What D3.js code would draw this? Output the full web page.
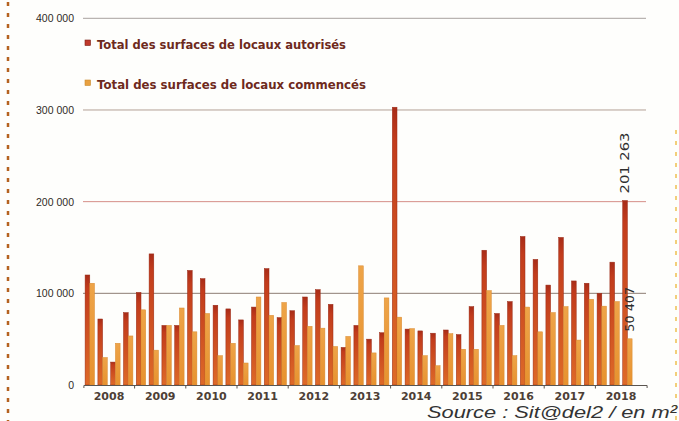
<!DOCTYPE html>
<html><head><meta charset="utf-8">
<script src="https://cdn.jsdelivr.net/npm/d3@7"></script>
<style>html,body{margin:0;padding:0;background:#fefefc;} svg{display:block;}</style>
</head><body><svg id="c" width="679" height="421"></svg>
<script>
// ---- data ----
const years = ["2008","2009","2010","2011","2012","2013","2014","2015","2016","2017","2018"];
const quarters = ["2008T1","2008T2","2008T3","2008T4","2009T1","2009T2","2009T3","2009T4",
  "2010T1","2010T2","2010T3","2010T4","2011T1","2011T2","2011T3","2011T4",
  "2012T1","2012T2","2012T3","2012T4","2013T1","2013T2","2013T3","2013T4",
  "2014T1","2014T2","2014T3","2014T4","2015T1","2015T2","2015T3","2015T4",
  "2016T1","2016T2","2016T3","2016T4","2017T1","2017T2","2017T3","2017T4",
  "2018T1","2018T2","2018T3","2018T4"];
const autorises = [120000,72000,25000,79000, 101000,143000,65000,65000,
  125000,116000,87000,83000, 71000,85000,127000,73500,
  81000,96000,104000,88000, 41000,65000,50000,57000,
  303000,61000,59000,56500, 60000,55000,85500,147000,
  78000,91000,162000,137000, 109000,161000,113500,111000,
  100000,134000,201263,null];
const commences = [111000,30000,45500,53500, 82000,38000,65000,84000,
  58000,78000,32000,45500, 24000,96000,76000,90000,
  43000,64000,62000,42000, 53000,130000,35000,95000,
  74000,61500,32000,21000, 56000,39000,39000,103000,
  65000,32000,85000,58000, 79000,85500,49000,93500,
  86000,91000,50407,null];
const seriesNames = ["Total des surfaces de locaux autorisés","Total des surfaces de locaux commencés"];
const yTicks = [0,100000,200000,300000,400000];
const labelledIndex = 42;
const sourceText = "Source : Sit@del2 / en m²";

// ---- chart ----
const svg = d3.select("#c");
const fmt = v => d3.format(",")(v).replace(/,/g, " ");

const x0 = d3.scaleBand().domain(quarters).range([83.4, 646.6]);
const x1 = d3.scaleBand().domain([0,1]).range([1.7, x0.bandwidth() - 1.7]);
const xYear = d3.scaleBand().domain(years).range([83.4, 646.6]);
const y = d3.scaleLinear().domain([0, 400000]).range([385, 18.3]);

const defs = svg.append("defs");
function grad(id, stops){
  const g = defs.append("linearGradient").attr("id", id).attr("x1",0).attr("x2",0).attr("y1",0).attr("y2",1);
  stops.forEach(s => g.append("stop").attr("offset", s[0]).attr("stop-color", s[1]));
}
grad("gRed", [[0,"#a82c18"],[0.12,"#c23c1c"],[1,"#de6a28"]]);
grad("gOr", [[0,"#eea448"],[1,"#e7922f"]]);
const fills = ["url(#gRed)","url(#gOr)"];
const strokes = ["#9a2a16","#d98a30"];
const swatch = ["#c0392b","#e8a040"];

// page dashed borders
svg.append("line").attr("x1",8).attr("x2",8).attr("y1",2).attr("y2",421)
  .attr("stroke","#b5621f").attr("stroke-width",2.5).attr("stroke-dasharray","4,7");
svg.append("line").attr("x1",676).attr("x2",676).attr("y1",130).attr("y2",421)
  .attr("stroke","#f2cf7a").attr("stroke-width",2).attr("stroke-dasharray","4,7");

// gridlines
const gridColor = {100000:"#8c7c72",200000:"#d58f88",300000:"#b3a096",400000:"#a8a29e"};
svg.append("g").selectAll("line").data(yTicks.filter(d => d > 0)).join("line")
  .attr("x1", 83).attr("x2", 646)
  .attr("y1", d => y(d)).attr("y2", d => y(d))
  .attr("stroke", d => gridColor[d]).attr("stroke-width", 1);

// y axis
const ya = svg.append("g").attr("transform","translate(82,0)")
  .call(d3.axisLeft(y).tickValues(yTicks).tickSize(0).tickPadding(8).tickFormat(fmt));
ya.select(".domain").remove();
ya.selectAll("text").attr("font-family","'Liberation Sans', Arial, sans-serif")
  .attr("font-size","10.5px").attr("fill","#2f2a26");

// bars
const series = [autorises, commences];
const gBars = svg.append("g");
series.forEach((vals, s) => {
  gBars.append("g").selectAll("rect")
    .data(quarters.map((q,i) => ({q, v: vals[i]})).filter(d => d.v != null))
    .join("rect")
    .attr("x", d => x0(d.q) + x1(s))
    .attr("width", x1.bandwidth())
    .attr("y", d => y(d.v))
    .attr("height", d => y(0) - y(d.v))
    .attr("fill", fills[s])
    .attr("stroke", strokes[s]).attr("stroke-width", 0.5);
});

// x axis
const xa = svg.append("g").attr("transform","translate(0,385)")
  .call(d3.axisBottom(xYear).tickSize(0).tickSizeOuter(3).tickPadding(7));
xa.select(".domain").attr("stroke","#5a5550");
xa.selectAll("text").attr("font-family","'DejaVu Sans', sans-serif").attr("font-weight","bold")
  .attr("font-size","11px").attr("fill","#4d3f36");
svg.append("g").selectAll("line").data(years.slice(1)).join("line")
  .attr("x1", d => xYear(d)).attr("x2", d => xYear(d))
  .attr("y1", 385).attr("y2", 388.5).attr("stroke","#5a5550");

// value labels (rotated)
series.forEach((vals, s) => {
  const v = vals[labelledIndex];
  const cx = x0(quarters[labelledIndex]) + x1(s) + x1.bandwidth()/2 + 4;
  const by = y(v) - 7;
  svg.append("text")
    .attr("transform", `translate(${cx},${by}) rotate(-90)`)
    .attr("font-family","'DejaVu Sans', sans-serif").attr("font-size","12px")
    .attr("fill","#2e2e2e").attr("textLength", s === 0 ? 61 : 45).attr("lengthAdjust","spacingAndGlyphs")
    .text(fmt(v));
});

// legend
const legY = [44, 84];
seriesNames.forEach((n, i) => {
  svg.append("rect").attr("x", 85).attr("y", legY[i] - 4).attr("width", 5.5).attr("height", 5.5)
    .attr("fill", swatch[i]).attr("stroke", i === 0 ? "#7a1f14" : "#c98a2e").attr("stroke-width", 0.6);
  svg.append("text").attr("x", 97).attr("y", legY[i] + 4.5)
    .attr("font-family","'DejaVu Sans', sans-serif").attr("font-weight","bold").attr("font-size","13px")
    .attr("fill","#6e2a1c").attr("textLength", i === 0 ? 249 : 269).attr("lengthAdjust","spacingAndGlyphs")
    .text(n);
});

// source
svg.append("text").attr("x", 427).attr("y", 418)
  .attr("font-family","'Liberation Sans', Arial, sans-serif").attr("font-style","italic")
  .attr("font-size","17px").attr("fill","#333").attr("textLength", 250).attr("lengthAdjust","spacingAndGlyphs")
  .text(sourceText);
</script></body></html>
